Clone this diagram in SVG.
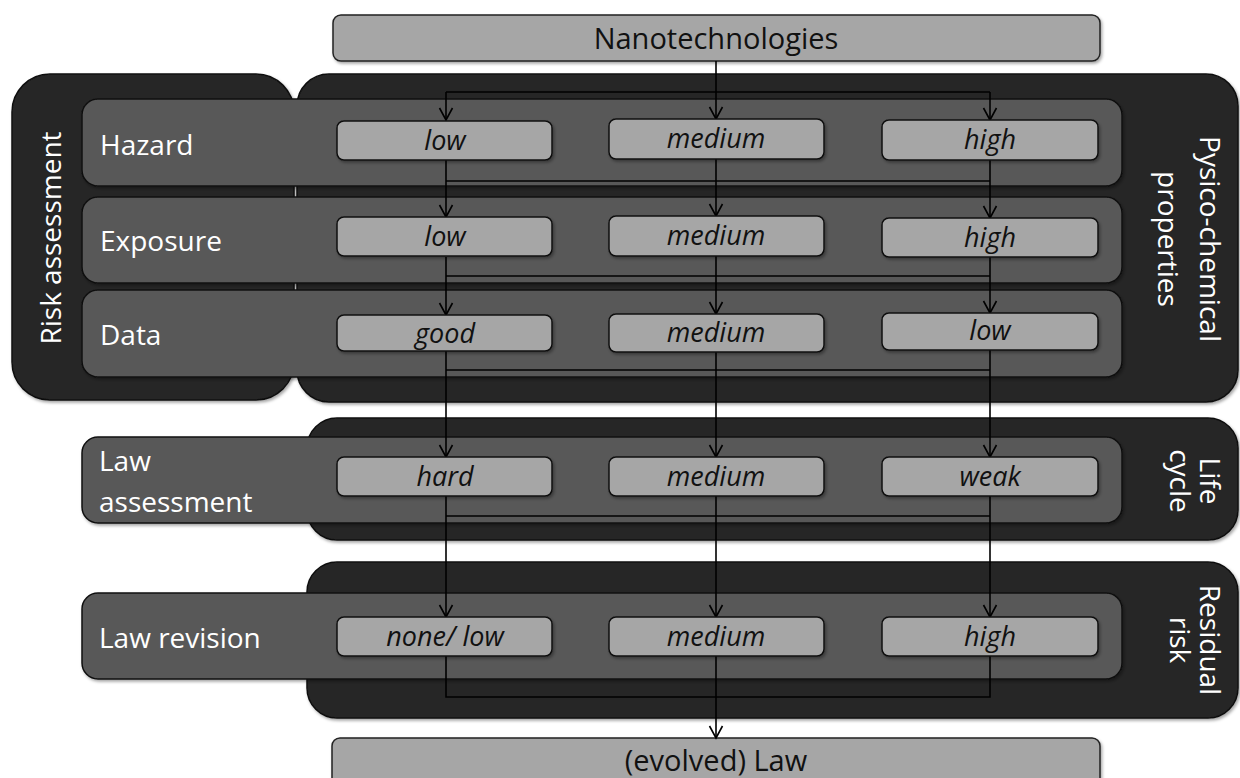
<svg xmlns="http://www.w3.org/2000/svg" width="1240" height="778" viewBox="0 0 1240 778">
<style>
.bg{fill:#ffffff}
.dark{fill:#262626;stroke:#111;stroke-width:1.5;filter:url(#sh)}
.row{fill:#595959;stroke:#111;stroke-width:1.5;filter:url(#sh)}
.val{fill:#a6a6a6;stroke:#111;stroke-width:1.5;filter:url(#sh)}
.top{fill:#a6a6a6;stroke:#222;stroke-width:1.5;filter:url(#sh)}
.wl{font-family:"Open Sans","Noto Sans",sans-serif;font-size:28px;fill:#ffffff}
.vl{font-family:"Open Sans","Noto Sans",sans-serif;font-size:27px;font-style:italic;fill:#111;text-anchor:middle}
.tl{font-family:"Open Sans","Noto Sans",sans-serif;font-size:29px;fill:#111;text-anchor:middle}
.rl{font-family:"Open Sans","Noto Sans",sans-serif;font-size:28px;fill:#ffffff;text-anchor:middle}
.cn{fill:none;stroke:#000;stroke-width:1.6}
</style>
<defs>
<filter id="sh" x="-5%" y="-5%" width="110%" height="120%">
<feDropShadow dx="1.5" dy="2" stdDeviation="1.5" flood-color="#000" flood-opacity="0.35"/>
</filter>
<marker id="ar" markerUnits="userSpaceOnUse" markerWidth="16" markerHeight="16" viewBox="0 0 16 16" refX="14" refY="8" orient="auto">
<path d="M2,1.5 L14,8 L2,14.5" fill="none" stroke="#000" stroke-width="1.6"/>
</marker>
</defs>
<rect class="bg" x="0" y="0" width="1240" height="778"/>

<g id="nanotechnologies">
<rect class="top" x="333" y="15" width="767" height="46" rx="8"/>
<text class="tl" x="716" y="49">Nanotechnologies</text>
</g>

<g id="risk-assessment">
<rect class="dark" x="12" y="74" width="282" height="326" rx="38"/>
<text class="wl" transform="translate(61,238) rotate(-90)" text-anchor="middle">Risk assessment</text>
</g>

<g id="pysico-chemical-properties">
<rect class="dark" x="297" y="74" width="941" height="328" rx="32"/>
<text class="rl" transform="translate(1200,239) rotate(90)">Pysico-chemical</text>
<text class="rl" transform="translate(1158,239) rotate(90)">properties</text>
</g>

<g id="hazard">
<rect class="row" x="82" y="99" width="1040" height="87" rx="16"/>
<text class="wl" x="100" y="155">Hazard</text>
</g>
<g id="exposure">
<rect class="row" x="82" y="197" width="1040" height="86" rx="16"/>
<text class="wl" x="100" y="251">Exposure</text>
</g>
<g id="data">
<rect class="row" x="82" y="290" width="1040" height="87" rx="16"/>
<text class="wl" x="100" y="345">Data</text>
</g>

<g id="life-cycle">
<rect class="dark" x="307" y="418" width="931" height="122" rx="30"/>
<text class="rl" transform="translate(1200,481) rotate(90)">Life</text>
<text class="rl" transform="translate(1170,481) rotate(90)">cycle</text>
</g>
<g id="law-assessment">
<rect class="row" x="82" y="437" width="1040" height="86" rx="16"/>
<text class="wl" x="99" y="471">Law</text>
<text class="wl" x="99" y="512">assessment</text>
</g>

<g id="residual-risk">
<rect class="dark" x="307" y="562" width="931" height="156" rx="30"/>
<text class="rl" transform="translate(1200,640) rotate(90)">Residual</text>
<text class="rl" transform="translate(1170,640) rotate(90)">risk</text>
</g>
<g id="law-revision">
<rect class="row" x="82" y="593" width="1040" height="86" rx="16"/>
<text class="wl" x="99" y="648">Law revision</text>
</g>

<g id="evolved-law">
<rect class="top" x="332" y="738" width="768" height="60" rx="8"/>
<text class="tl" x="716" y="771">(evolved) Law</text>
</g>

<g id="connectors">
<path class="cn" d="M716,61 V119" marker-end="url(#ar)"/>
<path class="cn" d="M446,92 H990"/>
<path class="cn" d="M446,92 V120" marker-end="url(#ar)"/>
<path class="cn" d="M990,92 V120" marker-end="url(#ar)"/>

<path class="cn" d="M446,160 V217" marker-end="url(#ar)"/>
<path class="cn" d="M716,159 V216" marker-end="url(#ar)"/>
<path class="cn" d="M990,160 V218" marker-end="url(#ar)"/>
<path class="cn" d="M446,181 H990"/>

<path class="cn" d="M446,257 V315" marker-end="url(#ar)"/>
<path class="cn" d="M716,256 V314" marker-end="url(#ar)"/>
<path class="cn" d="M990,257 V313" marker-end="url(#ar)"/>
<path class="cn" d="M446,276 H990"/>

<path class="cn" d="M446,351 V457" marker-end="url(#ar)"/>
<path class="cn" d="M716,352 V457" marker-end="url(#ar)"/>
<path class="cn" d="M990,350 V457" marker-end="url(#ar)"/>
<path class="cn" d="M446,370 H990"/>

<path class="cn" d="M446,496 V617" marker-end="url(#ar)"/>
<path class="cn" d="M716,496 V617" marker-end="url(#ar)"/>
<path class="cn" d="M990,496 V617" marker-end="url(#ar)"/>
<path class="cn" d="M446,516 H990"/>

<path class="cn" d="M446,656 V697 H990 V656"/>
<path class="cn" d="M716,656 V738" marker-end="url(#ar)"/>
</g>

<g id="hazard-low"><rect class="val" x="337" y="121" width="215" height="39" rx="7"/><text class="vl" x="445" y="150">low</text></g>
<g id="hazard-medium"><rect class="val" x="609" y="119" width="215" height="40" rx="7"/><text class="vl" x="716" y="148">medium</text></g>
<g id="hazard-high"><rect class="val" x="882" y="120" width="216" height="40" rx="7"/><text class="vl" x="990" y="149">high</text></g>

<g id="exposure-low"><rect class="val" x="337" y="217" width="215" height="39" rx="7"/><text class="vl" x="445" y="246">low</text></g>
<g id="exposure-medium"><rect class="val" x="609" y="216" width="215" height="40" rx="7"/><text class="vl" x="716" y="245">medium</text></g>
<g id="exposure-high"><rect class="val" x="882" y="218" width="216" height="39" rx="7"/><text class="vl" x="990" y="247">high</text></g>

<g id="data-good"><rect class="val" x="337" y="315" width="215" height="36" rx="7"/><text class="vl" x="445" y="343">good</text></g>
<g id="data-medium"><rect class="val" x="609" y="314" width="215" height="38" rx="7"/><text class="vl" x="716" y="342">medium</text></g>
<g id="data-low"><rect class="val" x="882" y="313" width="216" height="37" rx="7"/><text class="vl" x="990" y="340">low</text></g>

<g id="law-hard"><rect class="val" x="337" y="457" width="215" height="39" rx="7"/><text class="vl" x="445" y="486">hard</text></g>
<g id="law-medium"><rect class="val" x="609" y="457" width="215" height="39" rx="7"/><text class="vl" x="716" y="486">medium</text></g>
<g id="law-weak"><rect class="val" x="882" y="457" width="216" height="39" rx="7"/><text class="vl" x="990" y="486">weak</text></g>

<g id="revision-none-low"><rect class="val" x="337" y="617" width="215" height="39" rx="7"/><text class="vl" x="445" y="646">none/ low</text></g>
<g id="revision-medium"><rect class="val" x="609" y="617" width="215" height="39" rx="7"/><text class="vl" x="716" y="646">medium</text></g>
<g id="revision-high"><rect class="val" x="882" y="617" width="216" height="39" rx="7"/><text class="vl" x="990" y="646">high</text></g>
</svg>
